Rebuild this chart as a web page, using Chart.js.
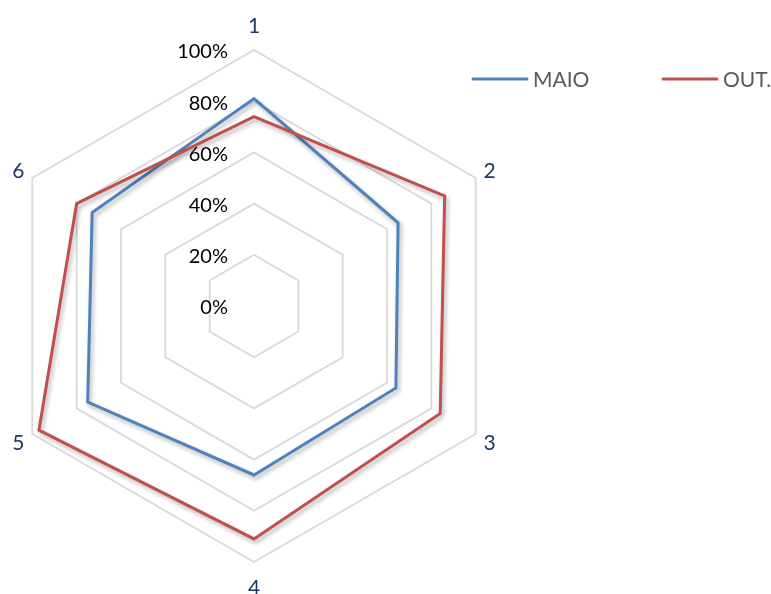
<!DOCTYPE html>
<html>
<head>
<meta charset="utf-8">
<script src="https://cdn.jsdelivr.net/npm/chart.js@4/dist/chart.umd.min.js"></script>
<style>
  html, body { margin: 0; padding: 0; background: #ffffff; overflow: hidden; }
  #wrap { position: absolute; left: -10px; top: 0; width: 781px; height: 594px; }
</style>
</head>
<body>
<div id="wrap"><canvas id="radar" width="781" height="594"></canvas></div>
<script>
// Axis categories and the two monthly series (percent)
const categories = ['1', '2', '3', '4', '5', '6'];
const seriesNames = ['MAIO', 'OUT.'];
const maioValues = [81, 65, 64, 66, 75, 73];
const outValues = [74, 86, 84, 91, 97, 80];
const tickValues = [0, 20, 40, 60, 80, 100];
const tickLabels = ['0%', '20%', '40%', '60%', '80%', '100%'];

const colors = ['#4F81BD', '#C0504D'];
const FONT = 'Lato, "Open Sans", "Liberation Sans", sans-serif';

// Soft drop shadow under each series line
const lineShadow = {
  id: 'lineShadow',
  beforeDatasetDraw(chart) {
    const ctx = chart.ctx;
    ctx.save();
    ctx.shadowColor = 'rgba(0,0,0,0.30)';
    ctx.shadowBlur = 4;
    ctx.shadowOffsetX = 2;
    ctx.shadowOffsetY = 3;
  },
  afterDatasetDraw(chart) {
    chart.ctx.restore();
  }
};

// Percentage labels to the left of the first axis, point labels, and legend
const labelsAndLegend = {
  id: 'labelsAndLegend',
  beforeDatasetsDraw(chart) {
    const scale = chart.scales.r;
    const ctx = chart.ctx;
    ctx.save();
    ctx.font = '20px ' + FONT;
    ctx.fillStyle = '#000000';
    ctx.textAlign = 'right';
    ctx.textBaseline = 'middle';
    tickValues.forEach((v, i) => {
      const y = scale.yCenter - scale.getDistanceFromCenterForValue(v);
      ctx.fillText(tickLabels[i], scale.xCenter - 26, y + 2);
    });
    ctx.restore();
  },
  afterDraw(chart) {
    const scale = chart.scales.r;
    const ctx = chart.ctx;
    ctx.save();
    // axis names around the web
    ctx.font = '21px ' + FONT;
    ctx.fillStyle = '#1F3864';
    ctx.textAlign = 'center';
    ctx.textBaseline = 'middle';
    categories.forEach((c, i) => {
      const vertical = (i === 0 || i === 3);
      const pad = vertical ? 25 : 16;
      const p = scale.getPointPosition(i, scale.drawingArea + pad);
      ctx.fillText(c, p.x, p.y + 1);
    });
    // legend row at the top right
    const legendY = 79;
    const starts = [483, 673];
    ctx.font = '21px ' + FONT;
    ctx.textAlign = 'left';
    chart.data.datasets.forEach((ds, i) => {
      const x = starts[i];
      ctx.strokeStyle = ds.borderColor;
      ctx.lineWidth = 3;
      ctx.lineCap = 'round';
      ctx.beginPath();
      ctx.moveTo(x, legendY);
      ctx.lineTo(x + 54, legendY);
      ctx.stroke();
      ctx.fillStyle = '#595959';
      ctx.fillText(ds.label, x + 60, legendY + 1);
    });
    ctx.restore();
  }
};

new Chart(document.getElementById('radar'), {
  type: 'radar',
  data: {
    labels: categories,
    datasets: [
      {
        label: seriesNames[0],
        data: maioValues,
        borderColor: colors[0],
        backgroundColor: colors[0],
        borderWidth: 3,
        fill: false,
        pointRadius: 0,
        order: 1
      },
      {
        label: seriesNames[1],
        data: outValues,
        borderColor: colors[1],
        backgroundColor: colors[1],
        borderWidth: 3,
        fill: false,
        pointRadius: 0,
        order: 0
      }
    ]
  },
  options: {
    responsive: false,
    animation: false,
    devicePixelRatio: 1,
    layout: { padding: { left: 8, top: 50, right: 261, bottom: 32 } },
    elements: { line: { tension: 0, borderJoinStyle: 'miter' } },
    plugins: {
      legend: { display: false },
      tooltip: { enabled: false }
    },
    scales: {
      r: {
        min: 0,
        max: 100,
        beginAtZero: true,
        angleLines: { display: false },
        grid: { color: '#D9D9D9', lineWidth: 1.8 },
        pointLabels: { display: false },
        ticks: { display: false, stepSize: 20 }
      }
    }
  },
  plugins: [lineShadow, labelsAndLegend]
});
</script>
</body>
</html>
